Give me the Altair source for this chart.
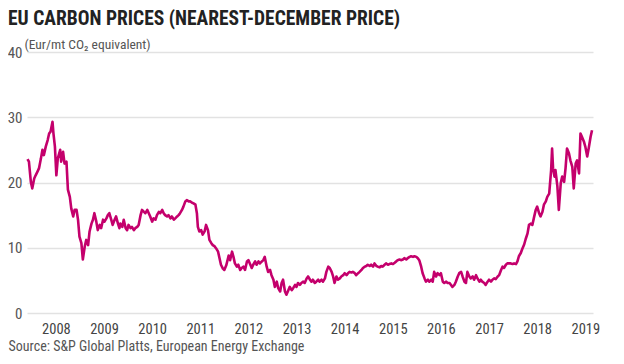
import altair as alt
import pandas as pd

years = [
    2007.91, 2007.94, 2007.98, 2008.01, 2008.05, 2008.08, 2008.12, 2008.15, 2008.19, 2008.22,
    2008.25, 2008.29, 2008.33, 2008.36, 2008.39, 2008.43, 2008.45, 2008.48, 2008.51, 2008.54,
    2008.59, 2008.61, 2008.65, 2008.68, 2008.72, 2008.75, 2008.79, 2008.82, 2008.86, 2008.89,
    2008.93, 2008.96, 2008.99, 2009.03, 2009.06, 2009.10, 2009.13, 2009.17, 2009.20, 2009.24,
    2009.27, 2009.30, 2009.34, 2009.37, 2009.41, 2009.44, 2009.48, 2009.51, 2009.55, 2009.58,
    2009.61, 2009.65, 2009.68, 2009.72, 2009.75, 2009.79, 2009.82,
    2009.84, 2009.88, 2009.91, 2009.95, 2009.98, 2010.01, 2010.05, 2010.08, 2010.12, 2010.15,
    2010.19, 2010.22, 2010.26, 2010.29, 2010.33, 2010.36, 2010.40, 2010.43, 2010.46, 2010.50,
    2010.53, 2010.57, 2010.60, 2010.64, 2010.67, 2010.71, 2010.74, 2010.77, 2010.81, 2010.84,
    2010.88, 2010.91, 2010.95, 2010.98, 2011.02, 2011.05, 2011.08, 2011.12, 2011.15, 2011.19,
    2011.22, 2011.26, 2011.29, 2011.33, 2011.36, 2011.40, 2011.43, 2011.45, 2011.48, 2011.52,
    2011.55, 2011.59, 2011.62, 2011.66, 2011.69, 2011.73, 2011.76, 2011.80, 2011.83, 2011.87,
    2011.90, 2011.93, 2011.97, 2012.00, 2012.04, 2012.07, 2012.09,
    2012.12, 2012.16, 2012.19, 2012.22, 2012.26, 2012.29, 2012.33, 2012.36, 2012.40, 2012.43,
    2012.47, 2012.50, 2012.53, 2012.57, 2012.60, 2012.64, 2012.67, 2012.71, 2012.74, 2012.78,
    2012.81, 2012.84, 2012.88, 2012.91, 2012.95, 2012.98, 2013.02, 2013.05, 2013.09, 2013.12,
    2013.16, 2013.19, 2013.22, 2013.26, 2013.29, 2013.33, 2013.36, 2013.40, 2013.43, 2013.47,
    2013.50, 2013.53, 2013.57, 2013.60, 2013.64, 2013.67, 2013.71, 2013.74, 2013.78, 2013.81,
    2013.84, 2013.88, 2013.91, 2013.95,
    2013.98, 2014.02, 2014.05, 2014.09, 2014.12, 2014.16, 2014.19, 2014.23, 2014.26, 2014.29,
    2014.33, 2014.36, 2014.40, 2014.43, 2014.47, 2014.50, 2014.54, 2014.57, 2014.60, 2014.64,
    2014.67, 2014.71, 2014.74, 2014.78, 2014.81, 2014.85, 2014.88, 2014.92, 2014.95, 2014.98,
    2015.02, 2015.05, 2015.09, 2015.12, 2015.16, 2015.19, 2015.23, 2015.26, 2015.29, 2015.33,
    2015.36, 2015.40, 2015.43, 2015.47, 2015.50, 2015.54, 2015.57, 2015.60, 2015.64, 2015.68,
    2015.71, 2015.74, 2015.78, 2015.81, 2015.85, 2015.88, 2015.92, 2015.95, 2015.99, 2016.02,
    2016.05, 2016.09, 2016.12, 2016.16, 2016.19, 2016.23, 2016.26,
    2016.30, 2016.33, 2016.36, 2016.40, 2016.43, 2016.47, 2016.50, 2016.54, 2016.57, 2016.61,
    2016.64, 2016.68, 2016.71, 2016.74, 2016.78, 2016.81, 2016.85, 2016.88, 2016.92, 2016.95,
    2016.99, 2017.02, 2017.05, 2017.09, 2017.12, 2017.16, 2017.19, 2017.23, 2017.26, 2017.30,
    2017.33, 2017.36, 2017.40, 2017.43, 2017.47, 2017.50, 2017.54, 2017.57, 2017.61, 2017.64,
    2017.68, 2017.71, 2017.75, 2017.78, 2017.81, 2017.85, 2017.88, 2017.92,
    2017.95, 2017.99, 2018.02, 2018.06, 2018.09, 2018.12, 2018.16, 2018.19, 2018.23, 2018.26,
    2018.30, 2018.33, 2018.37, 2018.40, 2018.43, 2018.47, 2018.50, 2018.54, 2018.57, 2018.61,
    2018.64, 2018.68, 2018.71, 2018.75, 2018.77, 2018.79, 2018.81, 2018.83, 2018.86, 2018.88,
    2018.92, 2018.95, 2018.99, 2019.02, 2019.06, 2019.09, 2019.12, 2019.16, 2019.19, 2019.23,
    2019.26, 2019.30, 2019.33, 2019.37, 2019.40, 2019.43, 2019.47, 2019.50, 2019.54, 2019.57,
    2019.61, 2019.64,
]

prices = [
    23.6, 23.2, 20.1, 19.1, 20.6, 21.1, 21.7, 22.2, 23.7, 25.0,
    24.2, 25.5, 26.5, 27.5, 27.8, 29.3, 27.5, 25.5, 21.1, 23.7,
    25.0, 23.2, 24.7, 22.9, 23.2, 18.9, 17.8, 16.0, 14.8, 15.8,
    15.8, 14.3, 11.7, 10.7, 8.2, 10.2, 11.2, 10.4, 12.5, 13.7,
    14.3, 15.3, 14.0, 12.7, 13.5, 13.0, 14.3, 14.0, 14.5, 15.0,
    15.3, 14.3, 13.5, 14.3, 14.8, 13.7, 13.0,
    13.7, 13.2, 14.3, 13.0, 12.7, 13.5, 13.0, 13.2, 12.7, 13.0,
    13.2, 13.5, 15.0, 15.8, 15.5, 15.3, 15.8, 15.3, 14.8, 14.0,
    14.5, 14.3, 15.0, 15.5, 15.3, 15.8, 15.3, 15.0, 14.8, 15.0,
    14.5, 14.8, 14.3, 14.5, 14.8, 15.0, 15.3, 15.8, 16.3, 17.1,
    17.3, 17.1, 17.1, 16.9, 16.8, 16.6, 15.3, 13.2, 12.5, 12.7,
    12.0, 12.5, 13.5, 12.7, 11.2, 10.7, 10.4, 10.2, 9.9, 9.4,
    8.4, 7.4, 6.8, 6.6, 7.3, 8.2, 8.8,
    8.1, 9.4, 8.6, 7.6, 7.1, 7.4, 6.6, 6.9, 7.1, 6.6,
    7.9, 8.1, 7.6, 6.9, 7.4, 7.9, 7.4, 7.9, 7.6, 7.9,
    8.1, 8.6, 7.1, 6.3, 6.6, 5.8, 5.1, 4.0, 4.8, 3.8,
    3.3, 4.6, 5.1, 3.3, 2.8, 3.5, 4.0, 3.5, 3.8, 4.3,
    4.0, 4.6, 4.3, 4.6, 4.8, 4.6, 5.3, 5.6, 5.1, 4.8,
    5.1, 4.6, 4.8, 5.1,
    4.8, 5.1, 4.8, 5.3, 6.3, 7.1, 6.9, 6.3, 5.6, 4.6,
    5.6, 5.1, 5.3, 5.6, 5.8, 6.1, 5.8, 6.1, 6.3, 6.2,
    6.3, 6.1, 5.8, 6.1, 6.3, 6.6, 6.9, 7.1, 7.2, 7.4,
    7.2, 7.4, 7.1, 7.6, 7.2, 7.1, 7.0, 7.2, 7.1, 7.4,
    7.6, 7.4, 7.5, 7.6, 7.5, 7.7, 7.9, 8.1, 8.2, 8.1,
    8.2, 8.4, 8.2, 8.4, 8.6, 8.7, 8.6, 8.7, 8.6, 8.4,
    8.1, 7.1, 6.1, 5.3, 4.8, 5.1, 4.8,
    5.1, 4.8, 6.3, 5.6, 6.1, 5.8, 6.1, 4.8, 4.6, 4.8,
    4.6, 4.6, 4.3, 4.0, 4.3, 4.8, 5.6, 6.1, 6.3, 5.6,
    4.8, 4.6, 6.3, 5.6, 5.3, 5.6, 5.1, 5.8, 5.3, 4.8,
    5.1, 4.8, 4.6, 4.3, 4.8, 5.1, 4.8, 5.1, 5.3, 5.2,
    5.6, 5.8, 6.6, 7.1, 6.9, 7.4, 7.6, 7.6,
    7.6, 7.5, 7.6, 7.5, 7.9, 8.7, 9.2, 9.8, 10.5, 11.3,
    12.2, 13.5, 13.7, 13.5, 14.5, 15.8, 16.3, 15.3, 14.8, 15.5,
    16.6, 17.1, 17.8, 18.3, 20.1, 21.9, 25.2, 22.2, 20.9, 21.9,
    19.4, 15.8, 19.9, 20.9, 20.1, 22.2, 25.2, 24.5, 23.4, 22.4,
    19.1, 22.9, 23.4, 21.4, 27.5, 27.0, 26.3, 25.5, 24.0, 25.2,
    27.0, 28.0,
]

year_ticks = [2008.5 + i for i in range(12)]
y_ticks = [0, 10, 20, 30, 40]

TITLE = "EU CARBON PRICES (NEAREST-DECEMBER PRICE)"
UNIT = "(Eur/mt CO\u2082 equivalent)"
SOURCE = "Source: S&P Global Platts, European Energy Exchange"

FONT = "Roboto Condensed"

df = pd.DataFrame({"year": years, "price": prices})

chart = alt.Chart(df).mark_line(
    color="#C4006C", strokeWidth=2.6, strokeJoin="round"
).encode(
    x=alt.X(
        "year:Q",
        scale=alt.Scale(domain=[2007.9, 2019.66], nice=False, zero=False),
        axis=alt.Axis(
            values=year_ticks,
            labelExpr="'' + floor(datum.value)",
            grid=False, ticks=False, domain=False,
            labelFontSize=14.5, labelColor="#444", labelFont=FONT,
            labelPadding=9, labelFlush=False,
            title=SOURCE, titleFont=FONT, titleFontSize=14,
            titleFontWeight="normal", titleColor="#555",
            titleAlign="left", titleAnchor="start", titleBaseline="alphabetic",
            titleX=-19, titleY=37,
        ),
    ),
    y=alt.Y(
        "price:Q",
        scale=alt.Scale(domain=[0, 40], nice=False),
        axis=alt.Axis(
            values=y_ticks,
            grid=True, gridColor="#e2e2e2", gridWidth=1.5,
            ticks=False, domain=False,
            labelFontSize=15, labelColor="#555", labelFont=FONT,
            labelPadding=5,
            title=UNIT, titleFont=FONT, titleFontSize=13.5,
            titleFontWeight="normal", titleColor="#555",
            titleAngle=0, titleAlign="left", titleBaseline="middle",
            titleX=-3, titleY=-8,
        ),
    ),
).properties(
    width=566,
    height=261,
    title=alt.TitleParams(
        TITLE, anchor="start", frame="group", dx=-19, font=FONT, fontSize=19.5,
        fontWeight="bold", color="#222", offset=8,
    ),
    autosize=alt.AutoSizeParams(type="none"),
    padding={"left": 19, "top": 44, "right": 23, "bottom": 41},
).configure_view(stroke=None)

chart.save("out.html", embed_options={"renderer": "svg", "actions": False})
